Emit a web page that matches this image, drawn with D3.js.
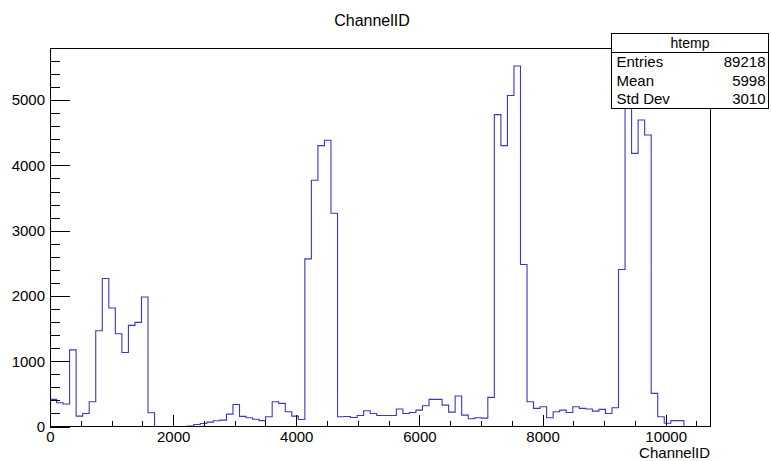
<!DOCTYPE html>
<html>
<head>
<meta charset="utf-8">
<script src="https://cdn.jsdelivr.net/npm/d3@7"></script>
<style>
  html, body { margin: 0; padding: 0; background: #ffffff; }
  svg { display: block; }
  text { font-family: "Liberation Sans", Arial, Helvetica, sans-serif; fill: #000; }
</style>
</head>
<body>
<svg id="chart" width="771" height="461"></svg>
<script>
// ---- data ----
const title = "ChannelID";
const xTitle = "ChannelID";
const histName = "htemp";
const xMin = 0;
const xMax = 10720;
const binCounts = [
  415, 364, 344, 1174, 159, 200, 380, 1467, 2267, 1815,
  1420, 1133, 1549, 1595, 1985, 210, 0, 0, 0, 0,
  0, 5, 30, 46, 67, 87, 97, 190, 338, 155,
  135, 112, 90, 150, 380, 354, 226, 159, 108, 2569,
  3774, 4303, 4385, 3267, 149, 154, 138, 169, 241, 200,
  169, 169, 169, 267, 200, 215, 251, 318, 415, 415,
  328, 220, 467, 174, 118, 133, 128, 446, 4779, 4303,
  5072, 5523, 2482, 379, 277, 303, 133, 226, 251, 215,
  303, 277, 267, 236, 262, 200, 287, 2405, 5050, 4185,
  4697, 4467, 508, 150, 50, 90, 90, 0, 0, 0,
  0
];
const xMajorTicks = [0, 2000, 4000, 6000, 8000, 10000];
const xMinorTicks = [500, 1000, 1500, 2500, 3000, 3500, 4500, 5000, 5500, 6500, 7000, 7500, 8500, 9000, 9500, 10500];
const yMajorTicks = [0, 1000, 2000, 3000, 4000, 5000];
const yMinorTicks = [200, 400, 600, 800, 1200, 1400, 1600, 1800, 2200, 2400, 2600, 2800,
                     3200, 3400, 3600, 3800, 4200, 4400, 4600, 4800, 5200, 5400, 5600, 5800];
const statLabels = ["Entries", "Mean", "Std Dev"];
const statValues = ["89218", "5998", "3010"];

// ---- layout ----
const frame = { left: 50, right: 710, top: 48, bottom: 426.5 };
const svg = d3.select("#chart");

const nBins = binCounts.length;
const binWidth = (xMax - xMin) / nBins;
const yMaxVal = 1.05 * d3.max(binCounts);

const x = d3.scaleLinear().domain([xMin, xMax]).range([frame.left, frame.right]);
const y = d3.scaleLinear().domain([0, yMaxVal]).range([frame.bottom, frame.top]);

const frameW = frame.right - frame.left;
const frameH = frame.bottom - frame.top;

// histogram step line
const pts = binCounts.map((c, i) => [xMin + i * binWidth, c]);
pts.push([xMax, binCounts[nBins - 1]]);
const line = d3.line().x(d => x(d[0])).y(d => y(d[1])).curve(d3.curveStepAfter);

svg.append("path")
  .datum(pts)
  .attr("d", line)
  .attr("fill", "none")
  .attr("stroke", "#3838c4")
  .attr("stroke-width", 1.1);

// frame
svg.append("rect")
  .attr("x", frame.left).attr("y", frame.top)
  .attr("width", frameW).attr("height", frameH)
  .attr("fill", "none").attr("stroke", "#000").attr("stroke-width", 1)
  .attr("shape-rendering", "crispEdges");

// x axis (ticks point inward)
const xAxis = d3.axisBottom(x).tickValues(xMajorTicks)
  .tickSizeInner(-0.03 * frameH).tickSizeOuter(0).tickPadding(5)
  .tickFormat(d3.format("d"));
const gx = svg.append("g").attr("transform", `translate(0,${frame.bottom})`).call(xAxis);
gx.select(".domain").remove();
gx.selectAll("text").attr("font-size", 15).attr("font-family", null);

const xMinor = d3.axisBottom(x).tickValues(xMinorTicks)
  .tickSizeInner(-0.015 * frameH).tickSizeOuter(0).tickFormat("");
const gxm = svg.append("g").attr("transform", `translate(0,${frame.bottom})`).call(xMinor);
gxm.select(".domain").remove();

// y axis
const yAxis = d3.axisLeft(y).tickValues(yMajorTicks)
  .tickSizeInner(-0.03 * frameW).tickSizeOuter(0).tickPadding(5)
  .tickFormat(d3.format("d"));
const gy = svg.append("g").attr("transform", `translate(${frame.left},0)`).call(yAxis);
gy.select(".domain").remove();
gy.selectAll("text").attr("font-size", 15).attr("font-family", null);

const yMinor = d3.axisLeft(y).tickValues(yMinorTicks)
  .tickSizeInner(-0.015 * frameW).tickSizeOuter(0).tickFormat("");
const gym = svg.append("g").attr("transform", `translate(${frame.left},0)`).call(yMinor);
gym.select(".domain").remove();

svg.selectAll(".tick line").attr("stroke", "#000").attr("shape-rendering", "crispEdges");

// titles
svg.append("text").attr("x", 372).attr("y", 26)
  .attr("text-anchor", "middle").attr("font-size", 16).text(title);
svg.append("text").attr("x", frame.right).attr("y", 458)
  .attr("text-anchor", "end").attr("font-size", 15).text(xTitle);

// stats box
const box = { x: 611.5, y: 33.5, w: 157, h: 75 };
const rowH = box.h / 4;
svg.append("rect")
  .attr("x", box.x).attr("y", box.y).attr("width", box.w).attr("height", box.h)
  .attr("fill", "#fff").attr("stroke", "#000").attr("stroke-width", 1)
  .attr("shape-rendering", "crispEdges");
svg.append("line")
  .attr("x1", box.x).attr("x2", box.x + box.w)
  .attr("y1", box.y + rowH).attr("y2", box.y + rowH)
  .attr("stroke", "#000").attr("shape-rendering", "crispEdges");
svg.append("text").attr("x", box.x + box.w / 2).attr("y", box.y + rowH / 2)
  .attr("dy", "0.35em").attr("text-anchor", "middle").attr("font-size", 14).text(histName);
statLabels.forEach((lab, i) => {
  const cy = box.y + rowH * (i + 1.5);
  svg.append("text").attr("x", box.x + 5).attr("y", cy).attr("dy", "0.35em")
    .attr("font-size", 15).text(lab);
  svg.append("text").attr("x", box.x + box.w - 3).attr("y", cy).attr("dy", "0.35em")
    .attr("text-anchor", "end").attr("font-size", 15).text(statValues[i]);
});
</script>
</body>
</html>
